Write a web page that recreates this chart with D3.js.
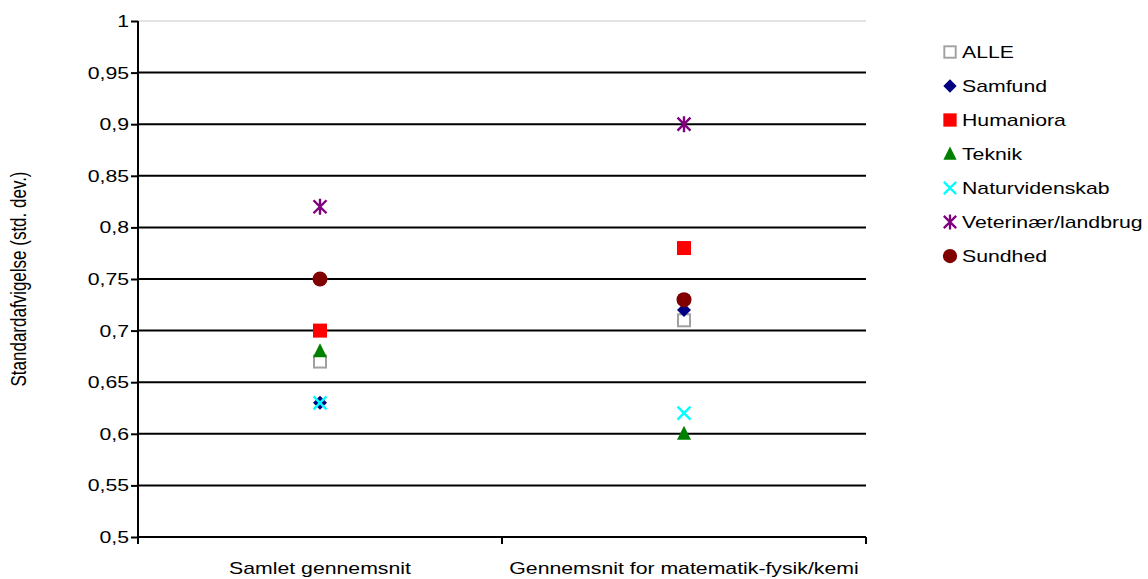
<!DOCTYPE html>
<html>
<head>
<meta charset="utf-8">
<script src="https://cdn.jsdelivr.net/npm/d3@7"></script>
<style>
  body { margin: 0; background: #fff; }
  text { font-family: "Liberation Sans", Arial, sans-serif; }
</style>
</head>
<body>
<div id="chart"></div>
<script>
var categories = ["Samlet gennemsnit", "Gennemsnit for matematik-fysik/kemi"];
var seriesNames = ["ALLE", "Samfund", "Humaniora", "Teknik", "Naturvidenskab", "Veterinær/landbrug", "Sundhed"];
var alle = [0.67, 0.71];
var samfund = [0.63, 0.72];
var humaniora = [0.70, 0.78];
var teknik = [0.68, 0.60];
var naturvidenskab = [0.63, 0.62];
var veterinaer = [0.82, 0.90];
var sundhed = [0.75, 0.73];
var yTicks = [0.5, 0.55, 0.6, 0.65, 0.7, 0.75, 0.8, 0.85, 0.9, 0.95, 1];

var series = [
  {name: seriesNames[0], values: alle, shape: "openSquare", color: "#a0a0a0"},
  {name: seriesNames[1], values: samfund, shape: "diamond", color: "#000080"},
  {name: seriesNames[2], values: humaniora, shape: "square", color: "#ff0000"},
  {name: seriesNames[3], values: teknik, shape: "triangle", color: "#008000"},
  {name: seriesNames[4], values: naturvidenskab, shape: "cross", color: "#00ffff"},
  {name: seriesNames[5], values: veterinaer, shape: "star", color: "#800080"},
  {name: seriesNames[6], values: sundhed, shape: "circle", color: "#800000"}
];

// the text in the original is a little wider than tall
var sx = 1.25, fontSize = "17px";

var margin = {top: 21, right: 282, bottom: 42, left: 138},
    width = 1148 - margin.left - margin.right,
    height = 579 - margin.top - margin.bottom;

var svg = d3.select("#chart")
  .append("svg")
    .attr("width", 1148)
    .attr("height", 579);

var g = svg.append("g")
    .attr("transform", "translate(" + margin.left + "," + margin.top + ")");

var x = d3.scalePoint()
    .domain(categories)
    .range([0, width])
    .padding(0.5);

var y = d3.scaleLinear()
    .domain([0.5, 1])
    .range([height, 0]);

var fmt = function(d) { return String(+d.toFixed(2)).replace(".", ","); };

// gridlines
g.append("g")
  .selectAll("line")
  .data(yTicks.filter(function(d) { return d > 0.5; }))
  .enter().append("line")
    .attr("x1", 0)
    .attr("x2", width)
    .attr("y1", function(d) { return y(d); })
    .attr("y2", function(d) { return y(d); })
    .attr("stroke", function(d) { return d === 1 ? "#c8c8c8" : "#000"; })
    .attr("stroke-width", function(d) { return d === 1 ? 1 : 2; });

// y axis
var yAxis = g.append("g")
    .call(d3.axisLeft(y).tickValues(yTicks).tickFormat(fmt).tickSize(7).tickPadding(2));
yAxis.selectAll("text")
    .style("font-size", fontSize)
    .attr("fill", "#000")
    .attr("x", -9 / sx)
    .attr("transform", "scale(" + sx + ",1)");
yAxis.selectAll("line").attr("stroke", "#000").attr("stroke-width", 2);
yAxis.select(".domain").attr("stroke", "#000").attr("stroke-width", 2).attr("d", "M0,0V" + height);

// x axis
var xb = d3.scaleLinear().domain([0, 2]).range([0, width]);
var xAxis = g.append("g")
    .attr("transform", "translate(0," + height + ")");
xAxis.append("line")
    .attr("x1", 0).attr("x2", width)
    .attr("stroke", "#000").attr("stroke-width", 2);
xAxis.selectAll(".tk")
  .data([0, 1, 2])
  .enter().append("line")
    .attr("x1", function(d) { return xb(d); })
    .attr("x2", function(d) { return xb(d); })
    .attr("y1", 0).attr("y2", 7)
    .attr("stroke", "#000").attr("stroke-width", 2);
xAxis.selectAll(".lbl")
  .data(categories)
  .enter().append("g")
    .attr("transform", function(d) { return "translate(" + x(d) + ",37) scale(" + sx + ",1)"; })
  .append("text")
    .attr("text-anchor", "middle")
    .style("font-size", fontSize)
    .text(function(d) { return d; });

// y axis title
svg.append("text")
    .attr("transform", "translate(26," + (margin.top + height / 2) + ") rotate(-90) scale(1," + sx + ")")
    .attr("text-anchor", "middle")
    .style("font-size", fontSize)
    .text("Standardafvigelse (std. dev.)");

function drawMarker(sel, shape, color) {
  if (shape === "openSquare") {
    sel.append("rect").attr("x", -6).attr("y", -6).attr("width", 12).attr("height", 12)
      .attr("fill", "#fff").attr("stroke", color).attr("stroke-width", 2);
  } else if (shape === "square") {
    sel.append("rect").attr("x", -7).attr("y", -7).attr("width", 14).attr("height", 14)
      .attr("fill", color);
  } else if (shape === "diamond") {
    sel.append("path").attr("d", "M0,-7L7,0L0,7L-7,0Z").attr("fill", color);
  } else if (shape === "triangle") {
    sel.append("path").attr("d", "M0,-8L7,6L-7,6Z").attr("fill", color);
  } else if (shape === "circle") {
    sel.append("circle").attr("r", 7.5).attr("fill", color);
  } else if (shape === "cross") {
    sel.append("path").attr("d", "M-6.5,-6.5L6.5,6.5M6.5,-6.5L-6.5,6.5")
      .attr("stroke", color).attr("stroke-width", 2.4).attr("fill", "none");
  } else if (shape === "star") {
    sel.append("path").attr("d", "M-6.5,-6.5L6.5,6.5M6.5,-6.5L-6.5,6.5M0,-8V8")
      .attr("stroke", color).attr("stroke-width", 2.4).attr("fill", "none");
  }
}

// points
series.forEach(function(s) {
  categories.forEach(function(c, i) {
    var m = g.append("g")
      .attr("transform", "translate(" + x(c) + "," + y(s.values[i]) + ")");
    drawMarker(m, s.shape, s.color);
  });
});

// legend
var legend = svg.append("g").attr("transform", "translate(950,52)");
series.forEach(function(s, i) {
  var row = legend.append("g").attr("transform", "translate(0," + (i * 34) + ")");
  var m = row.append("g").attr("transform", "scale(0.95)");
  drawMarker(m, s.shape, s.color);
  row.append("g")
    .attr("transform", "translate(12,6) scale(" + sx + ",1)")
  .append("text")
    .style("font-size", fontSize)
    .text(s.name);
});
</script>
</body>
</html>
